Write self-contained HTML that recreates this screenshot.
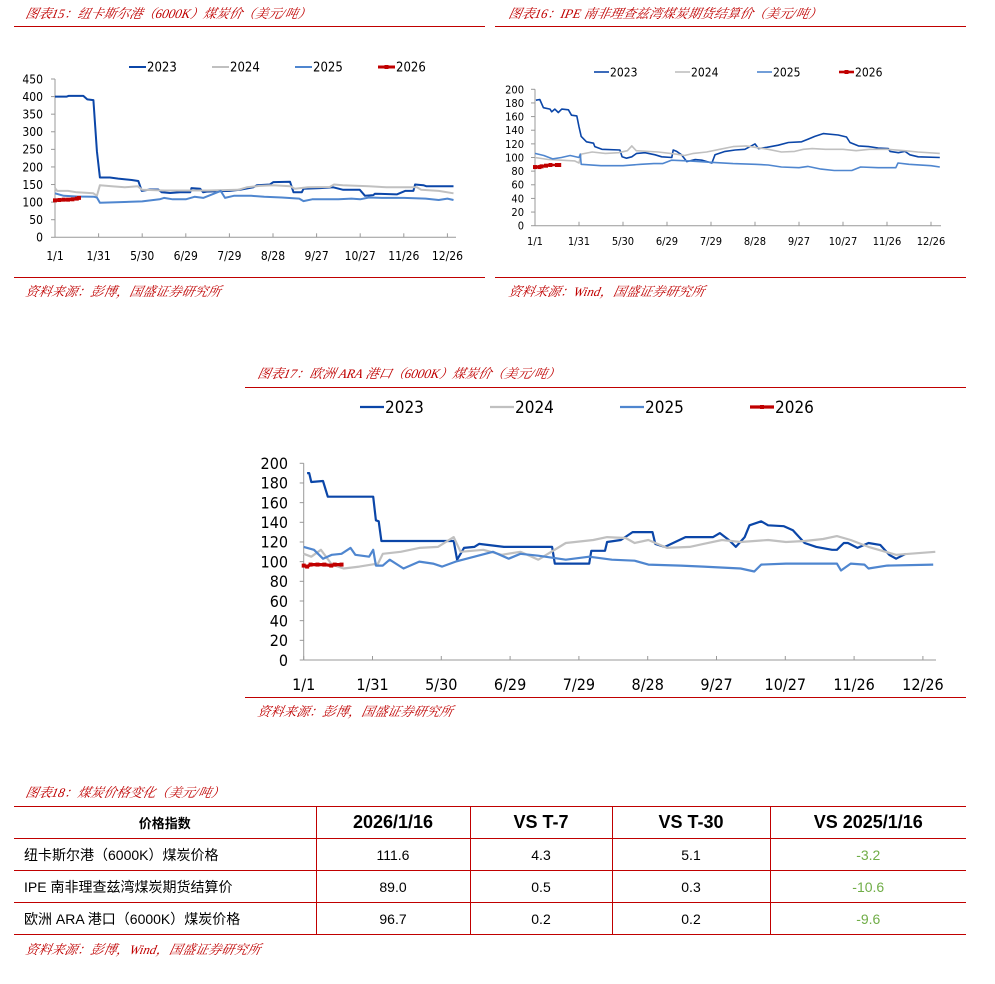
<!DOCTYPE html>
<html><head><meta charset="utf-8">
<style>
body{margin:0;background:#fff;width:995px;height:984px;position:relative;overflow:hidden;font-family:"Liberation Sans","Noto Sans CJK SC",sans-serif;}
.ttl{position:absolute;color:#c00000;font-style:italic;font-size:13px;font-family:"Liberation Serif","Noto Serif CJK SC",serif;white-space:nowrap;transform:skewX(-12deg);transform-origin:left bottom;}
.rl{position:absolute;height:1px;background:#c00000;}
table{position:absolute;left:14px;top:806px;width:952px;border-collapse:collapse;}
td{border:1px solid #c00000;border-left:none;border-right:none;text-align:center;font-size:14px;height:31px;padding:0;color:#000;}
td+td{border-left:1px solid #c00000;}
tr.h td{height:31px;font-weight:bold;font-size:18px;}
td.nm{text-align:left;padding-left:10px;}
td.g{color:#70ad47;}
</style></head><body>
<div class="ttl" style="left:24px;top:3px">图表15：纽卡斯尔港（6000K）煤炭价（美元/吨）</div>
<div class="rl" style="left:14px;top:26px;width:471px"></div>
<div class="ttl" style="left:507px;top:3px">图表16：IPE 南非理查兹湾煤炭期货结算价（美元/吨）</div>
<div class="rl" style="left:495px;top:26px;width:471px"></div>
<div class="rl" style="left:14px;top:277px;width:471px"></div>
<div class="rl" style="left:495px;top:277px;width:471px"></div>
<div class="ttl" style="left:24px;top:281px">资料来源：彭博，国盛证券研究所</div>
<div class="ttl" style="left:507px;top:281px">资料来源：Wind，国盛证券研究所</div>
<div class="ttl" style="left:256px;top:363px">图表17：欧洲 ARA 港口（6000K）煤炭价（美元/吨）</div>
<div class="rl" style="left:245px;top:387px;width:721px"></div>
<div class="rl" style="left:245px;top:697px;width:721px"></div>
<div class="ttl" style="left:256px;top:701px">资料来源：彭博，国盛证券研究所</div>
<div class="ttl" style="left:24px;top:782px">图表18：煤炭价格变化（美元/吨）</div>
<div class="ttl" style="left:24px;top:939px">资料来源：彭博，Wind，国盛证券研究所</div>

<table>
<colgroup><col style="width:302px"><col style="width:154px"><col style="width:142px"><col style="width:158px"><col style="width:196px"></colgroup>
<tr class="h"><td style="font-size:13px">价格指数</td><td>2026/1/16</td><td>VS T-7</td><td>VS T-30</td><td>VS 2025/1/16</td></tr>
<tr><td class="nm">纽卡斯尔港（6000K）煤炭价格</td><td>111.6</td><td>4.3</td><td>5.1</td><td class="g">-3.2</td></tr>
<tr><td class="nm">IPE 南非理查兹湾煤炭期货结算价</td><td>89.0</td><td>0.5</td><td>0.3</td><td class="g">-10.6</td></tr>
<tr><td class="nm">欧洲 ARA 港口（6000K）煤炭价格</td><td>96.7</td><td>0.2</td><td>0.2</td><td class="g">-9.6</td></tr>
</table>

<svg id="sv" width="995" height="984" style="position:absolute;left:0;top:0"></svg>
<script>
const xTickLabels = ["1/1","1/31","5/30","6/29","7/29","8/28","9/27","10/27","11/26","12/26"];
const seriesNames = ["2023","2024","2025","2026"];
// Chart 15 (x in tick units)
const c1x2023=[0,.27,.31,.65,.74,.88,.96,1.03,1.26,1.45,1.76,1.91,1.99,2.18,2.37,2.45,2.64,2.87,3.10,3.13,3.33,3.40,3.48,4.01,4.24,4.55,4.63,4.93,5.01,5.39,5.47,5.66,5.70,6.08,6.38,6.61,6.99,7.11,7.30,7.34,7.84,8.03,8.22,8.26,8.45,8.52,9.14];
const c1y2023=[400,400,402,402,392,390,245,170,170,167,163,160,132,136,136,128,126,128,128,140,138,128,130,132,135,142,148,150,157,158,128,128,138,140,142,135,135,118,120,124,122,132,132,150,148,145,145];
const c1x2024=[0,.05,.3,.5,.88,.96,1.03,1.3,1.6,1.9,2.0,2.5,3.5,4.2,4.4,4.7,5.0,5.4,5.5,5.8,6.3,6.4,6.6,7.2,7.6,8.3,8.4,8.8,9.14];
const c1y2024=[140,132,132,128,125,118,148,145,142,145,135,133,133,135,142,146,148,145,138,142,143,150,148,145,142,142,135,132,125];
const c1x2025=[0,.2,.5,.9,.96,1.03,1.5,2.0,2.4,2.5,2.7,3.0,3.2,3.4,3.6,3.8,3.9,4.1,4.5,4.8,5.2,5.6,5.7,5.9,6.5,6.8,7.0,7.2,7.5,8.0,8.5,8.8,9.0,9.14];
const c1y2025=[125,118,116,115,113,98,100,102,108,112,108,108,115,112,122,132,112,118,118,115,113,110,103,108,108,110,108,113,112,112,110,106,110,106];
const c1x2026=[0,.1,.2,.3,.4,.5,.55];
const c1y2026=[105,106,107,107,108,110,112];
const c1yTicks=[0,50,100,150,200,250,300,350,400,450];
// Chart 16
const c2x2023=[.02,.11,.19,.34,.38,.45,.53,.61,.76,.83,.95,1.0,1.05,1.17,1.33,1.36,1.52,1.93,1.98,2.08,2.2,2.31,2.5,2.73,2.88,3.11,3.14,3.22,3.33,3.45,3.64,3.79,4.02,4.09,4.32,4.55,4.77,5.0,5.08,5.27,5.53,5.76,6.06,6.21,6.36,6.55,6.89,7.08,7.16,7.35,7.58,7.8,8.03,8.07,8.26,8.41,8.52,8.71,9.2];
const c2y2023=[184,185,173,171,167,171,166,171,170,162,161,145,131,123,121,116,112,111,101,99,101,106,107,104,101,100,111,109,104,94,97,96,92,104,109,111,112,120,113,115,118,122,123,127,131,135,133,130,122,117,116,114,113,109,107,109,104,101,100];
const c2x2024=[0,.3,.6,.9,1.0,1.05,1.3,1.6,1.9,2.1,2.2,2.3,2.8,3.2,3.4,3.6,3.9,4.2,4.5,4.8,5.0,5.3,5.6,5.9,6.1,6.3,6.6,7.0,7.3,7.6,8.0,8.4,8.7,9.2];
const c2y2024=[100,97,96,95,92,105,108,106,107,110,117,110,108,105,103,106,108,112,116,117,115,112,108,109,112,113,112,112,110,112,112,110,108,106];
const c2x2025=[0,.2,.4,.6,.8,1.0,1.03,1.05,1.5,2.0,2.4,2.7,2.9,3.1,3.5,4.0,4.5,5.0,5.3,5.6,6.0,6.2,6.5,6.8,7.2,7.4,7.8,8.2,8.25,8.5,9.0,9.2];
const c2y2025=[106,103,98,100,103,100,105,90,88,88,90,91,91,96,95,93,91,90,89,86,85,87,83,81,81,86,85,85,92,90,88,86];
const c2x2026=[0,.1,.15,.25,.35,.5,.55];
const c2y2026=[86,86,87,88,89,89,89];
const c2yTicks=[0,20,40,60,80,100,120,140,160,180,200];
// Chart 17
const c3x2023=[.05,.08,.11,.28,.35,1.01,1.05,1.09,1.13,2.18,2.23,2.33,2.48,2.55,2.91,3.61,3.65,4.15,4.18,4.38,4.41,4.61,4.78,5.07,5.11,5.25,5.55,5.95,6.05,6.18,6.28,6.41,6.48,6.65,6.75,6.98,7.11,7.28,7.45,7.68,7.75,7.85,7.91,8.05,8.21,8.38,8.51,8.61,8.75];
const c3y2023=[190,190,181,182,166,166,142,141,121,121,102,114,115,118,115,115,98,98,111,111,120,122,130,130,118,115,125,125,129,122,115,125,137,141,137,136,132,119,115,112,112,119,119,114,119,117,107,103,108];
const c3x2024=[0,.11,.25,.41,.58,.81,1.08,1.15,1.41,1.68,1.95,2.18,2.28,2.61,2.88,3.15,3.41,3.81,4.21,4.41,4.68,4.81,5.01,5.28,5.61,5.81,6.08,6.35,6.75,7.01,7.28,7.55,7.75,7.95,8.21,8.61,9.18];
const c3y2024=[108,105,112,97,93,95,98,108,110,114,115,125,110,112,107,110,102,119,122,125,124,119,122,114,115,118,122,120,122,120,121,123,126,122,115,107,110];
const c3x2025=[0,.15,.28,.41,.55,.68,.75,.95,1.01,1.05,1.15,1.25,1.45,1.68,1.88,2.01,2.21,2.48,2.75,2.98,3.15,3.41,3.81,4.15,4.48,4.81,5.01,5.48,5.81,6.35,6.55,6.65,7.01,7.41,7.75,7.81,7.95,8.15,8.21,8.48,9.15];
const c3y2025=[115,112,103,107,108,114,107,105,112,96,96,102,93,100,98,95,100,105,110,103,108,106,102,105,102,101,97,96,95,93,90,97,98,98,98,91,98,97,93,96,97];
const c3x2026=[0,.05,.1,.2,.3,.4,.45,.55];
const c3y2026=[96,95,97,97,97,96,97,97];

const colors={"2023":"#0b46a8","2024":"#c0c0c0","2025":"#4f86cf","2026":"#c00000"};
const NS="http://www.w3.org/2000/svg";
const sv=document.getElementById('sv');
function mk(tag,attrs,parent){const e=document.createElementNS(NS,tag);for(const k in attrs)e.setAttribute(k,attrs[k]);(parent||sv).appendChild(e);return e;}

function drawChart(cfg){
  const g=mk('g',{});
  
  
  const sx=u=>cfg.x0+u*cfg.dx;
  const sy=v=>cfg.y0-(v/cfg.yMax)*(cfg.y0-cfg.yTop);
  const ya=mk('line',{x1:cfg.x0,y1:cfg.yTop,x2:cfg.x0,y2:cfg.y0,stroke:'#999','stroke-width':1},g);
  
  
  const xa=mk('line',{x1:cfg.x0,y1:cfg.y0,x2:cfg.xEnd,y2:cfg.y0,stroke:'#999','stroke-width':1},g);
  
  
  cfg.yTicks.forEach(v=>{
    mk('line',{x1:cfg.x0-4,y1:sy(v),x2:cfg.x0,y2:sy(v),stroke:'#999'},g);
    const t=mk('text',{x:cfg.yLabX,y:sy(v)+cfg.fs*0.36,'text-anchor':'end','font-size':cfg.fs,fill:'#000','font-family':'DejaVu Sans Condensed, Liberation Sans, sans-serif'},g);
    t.textContent=v;
    
    
  });
  xTickLabels.forEach((l,i)=>{
    mk('line',{x1:sx(i),y1:cfg.y0-4,x2:sx(i),y2:cfg.y0,stroke:'#999'},g);
    const t=mk('text',{x:sx(i),y:cfg.xLabY,'text-anchor':'middle','font-size':cfg.fs,fill:'#000','font-family':'DejaVu Sans Condensed, Liberation Sans, sans-serif'},g);
    t.textContent=l;
    
    
  });
  seriesNames.forEach((n,k)=>{
    const xs=cfg.data[n][0], ys=cfg.data[n][1];
    const pts=xs.map((u,i)=>sx(u).toFixed(1)+','+sy(ys[i]).toFixed(1)).join(' ');
    const pl=mk('polyline',{points:pts,fill:'none',stroke:colors[n],'stroke-width':n==='2026'?cfg.lw+1:cfg.lw,'stroke-linejoin':'round'},g);
    
    
    if(n==='2026'){
      xs.forEach((u,i)=>{
        const r=mk('rect',{x:sx(u)-2,y:sy(ys[i])-2,width:4,height:4,fill:colors[n]},g);
        
        
      });
    }
    const lx=cfg.legX[k];
    const ll=mk('line',{x1:lx,y1:cfg.legY,x2:lx+cfg.legLen,y2:cfg.legY,stroke:colors[n],'stroke-width':cfg.lw+(n==='2026'?1:0)},g);
    
    
    if(n==='2026'){mk('rect',{x:lx+cfg.legLen/2-2,y:cfg.legY-2,width:4,height:4,fill:colors[n]},g);}
    const lt=mk('text',{x:lx+cfg.legLen+1,y:cfg.legY+cfg.lfs*0.36,'font-size':cfg.lfs,fill:'#000','font-family':'DejaVu Sans Condensed, Liberation Sans, sans-serif'},g);
    lt.textContent=n;
    
    
  });
}
drawChart({name:'chart15',x0:55,dx:43.6,y0:237.3,yTop:79,yMax:450,xEnd:456,yTicks:c1yTicks,yLabX:43,xLabY:260,fs:12,lw:2,
  legX:[129,212,295,378],legY:67,legLen:17,lfs:13,
  data:{"2023":[c1x2023,c1y2023],"2024":[c1x2024,c1y2024],"2025":[c1x2025,c1y2025],"2026":[c1x2026,c1y2026]}});
drawChart({name:'chart16',x0:535,dx:44,y0:225.7,yTop:89.3,yMax:200,xEnd:941,yTicks:c2yTicks,yLabX:524,xLabY:245,fs:11,lw:1.6,
  legX:[594,675,757,839],legY:72,legLen:15,lfs:12,
  data:{"2023":[c2x2023,c2y2023],"2024":[c2x2024,c2y2024],"2025":[c2x2025,c2y2025],"2026":[c2x2026,c2y2026]}});
drawChart({name:'chart17',x0:303.7,dx:68.8,y0:660,yTop:463.3,yMax:200,xEnd:936,yTicks:c2yTicks,yLabX:288,xLabY:690,fs:16,lw:2.2,
  legX:[360,490,620,750],legY:407,legLen:24,lfs:17,
  data:{"2023":[c3x2023,c3y2023],"2024":[c3x2024,c3y2024],"2025":[c3x2025,c3y2025],"2026":[c3x2026,c3y2026]}});
</script>
</body></html>
